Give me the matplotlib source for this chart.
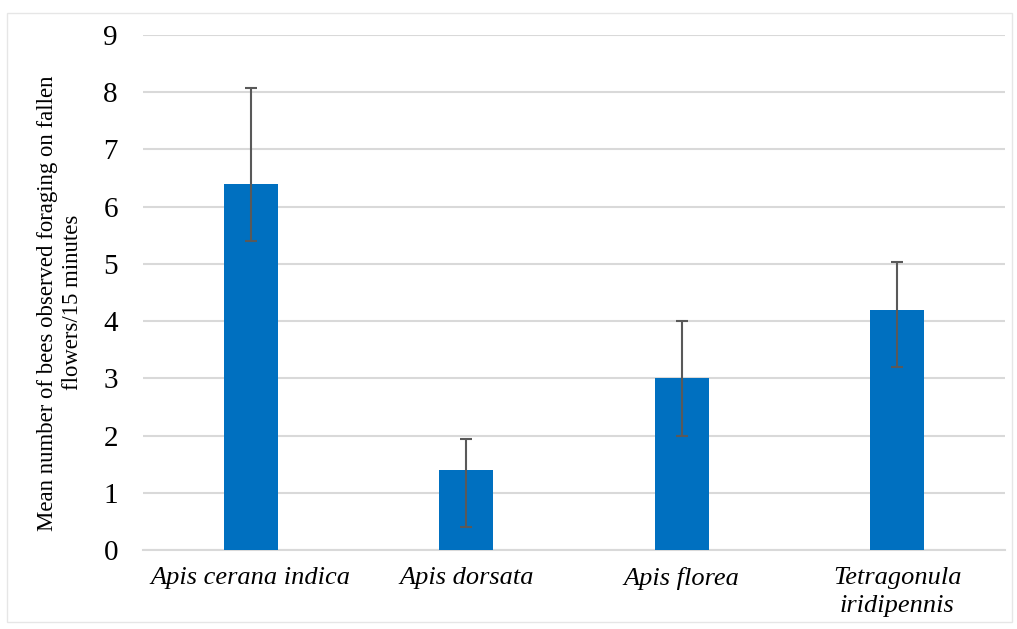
import matplotlib.pyplot as plt
from matplotlib.patches import Rectangle

# Bee species and their mean counts with error bars
species = ['Apis cerana indica', 'Apis dorsata', 'Apis florea', 'Tetragonula\niridipennis']
means = [6.4, 1.4, 3.0, 4.2]
err_low = [1.0, 1.0, 1.0, 1.0]
err_high = [1.67, 0.54, 1.0, 0.83]
yticks = [0, 1, 2, 3, 4, 5, 6, 7, 8, 9]

BAR_COLOR = '#0070C0'
GRID_COLOR = '#D9D9D9'
ERR_COLOR = '#595959'

plt.rcParams['font.family'] = ['Liberation Serif', 'DejaVu Serif']

fig = plt.figure(figsize=(10.17, 6.29), dpi=100)
fig.patches.append(Rectangle((0.007, 0.011), 0.988, 0.968, transform=fig.transFigure,
                             fill=False, edgecolor='#E6E6E6', linewidth=1))
ax = fig.add_axes([0.1406, 0.1256, 0.8476, 0.8188])

x = list(range(len(species)))
ax.bar(x, means, width=0.25, color=BAR_COLOR, zorder=3)
ax.errorbar(x, means, yerr=[err_low, err_high], fmt='none', ecolor=ERR_COLOR,
            elinewidth=1.5, capsize=4.3, capthick=1.5, zorder=4)

ax.set_xlim(-0.5, len(species) - 0.5)
ax.set_ylim(0, 9)
ax.set_yticks(yticks)
ax.set_yticklabels([str(t) for t in yticks], fontsize=21)
ax.set_xticks(x)
ax.set_xticklabels(species, fontsize=19, style='italic', linespacing=1.35)
ax.tick_params(axis='both', length=0)
ax.tick_params(axis='y', pad=18)
ax.tick_params(axis='x', pad=12)

ax.grid(axis='y', color=GRID_COLOR, linewidth=1.5, zorder=0)
for s in ['top', 'right', 'left']:
    ax.spines[s].set_visible(False)
ax.spines['bottom'].set_color(GRID_COLOR)
ax.spines['bottom'].set_linewidth(1.5)

ax.set_ylabel('Mean number of bees observed foraging on fallen\nflowers/15 minutes',
              fontsize=16.4, linespacing=1.2)
ax.yaxis.set_label_coords(-0.07, 0.48)

fig.savefig('out.png', dpi=100)
